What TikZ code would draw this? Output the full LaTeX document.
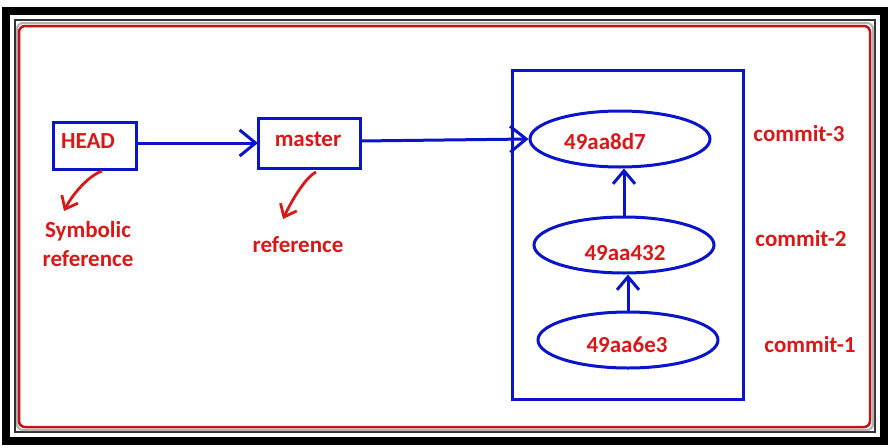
\documentclass[tikz,border=0pt]{standalone}
\usepackage{fontspec}
\setmainfont{Carlito}
\usetikzlibrary{arrows.meta,shapes.geometric}
\definecolor{gblue}{RGB}{10,20,200}
\definecolor{gred}{RGB}{215,25,25}
\definecolor{fred}{RGB}{190,20,20}
\tikzset{
  txt/.style={text=gred,font=\fontsize{23}{27}\selectfont\bfseries,inner sep=0pt},
  refbox/.style={draw=gblue,line width=3pt,inner sep=0pt},
  commitnode/.style={ellipse,draw=gblue,line width=3pt,minimum width=180pt,minimum height=56pt,inner sep=0pt},
  bluearrow/.style={draw=gblue,line width=3pt,-{Straight Barb[length=16pt,width=26pt,line width=3pt]}},
  smallarrow/.style={draw=gblue,line width=3pt,-{Straight Barb[length=13pt,width=22pt,line width=3pt]}},
  redarrow/.style={draw=gred,line width=2.8pt,-{Straight Barb[length=11pt,width=18pt,line width=2.8pt]}}
}
\begin{document}
\begin{tikzpicture}[x=1pt,y=-1pt]
\useasboundingbox (0,0) rectangle (890,447);
% frame
\fill[black] (2,7) rectangle (888,445);
\fill[white] (10,15) rectangle (880,437);
\draw[black!80,line width=2.5pt] (15,20) rectangle (875,432);
\fill[white] (17,23) rectangle (873,430);
\draw[gray!60,line width=2pt,rounded corners=6pt] (17,23) rectangle (873,430);
\draw[fred,line width=2.5pt,rounded corners=6pt] (19,26) rectangle (870,427);
% left boxes
\draw[refbox] (53,122) rectangle (136,169);
\node[txt] (head) at (88,141) {HEAD};
\coordinate (headR) at (136,143);
\draw[refbox] (258,118) rectangle (360,168);
\node[txt] (master) at (308,139) {master};
\coordinate (masterL) at (258,143);
\coordinate (masterR) at (360,141);
% labels
\node[txt,align=center] (sym) at (88,244) {Symbolic\\[2pt]reference};
\node[txt] (ref) at (298,245) {reference};
% red hand arrows
\coordinate (h1) at (102,171);
\coordinate (h2) at (64,211);
\draw[redarrow] (h1) .. controls (88,176) and (72,195) .. (h2);
\coordinate (m1) at (316,172);
\coordinate (m2) at (283,219);
\draw[redarrow] (m1) .. controls (305,178) and (292,200) .. (m2);
% commit box
\draw[refbox] (512,70) rectangle (743,399);
\node[commitnode] (c3) at (620,139) {};
\node[commitnode] (c2) at (624,245) {};
\node[commitnode] (c1) at (628,340) {};
\node[txt] (t3) at (605,142) {49aa8d7};
\node[txt] (t2) at (625,253) {49aa432};
\node[txt] (t1) at (627,345) {49aa6e3};
\node[txt] (l3) at (799,134) {commit-3};
\node[txt] (l2) at (801,239) {commit-2};
\node[txt] (l1) at (810,345) {commit-1};
% arrows
\draw[bluearrow] (headR) -- (masterL);
\draw[bluearrow] (masterR) -- (c3.west);
\draw[smallarrow] (c2.north) -- (c2.north |- c3.south);
\draw[smallarrow] (c1.north) -- (c1.north |- c2.south);
\end{tikzpicture}
\end{document}
